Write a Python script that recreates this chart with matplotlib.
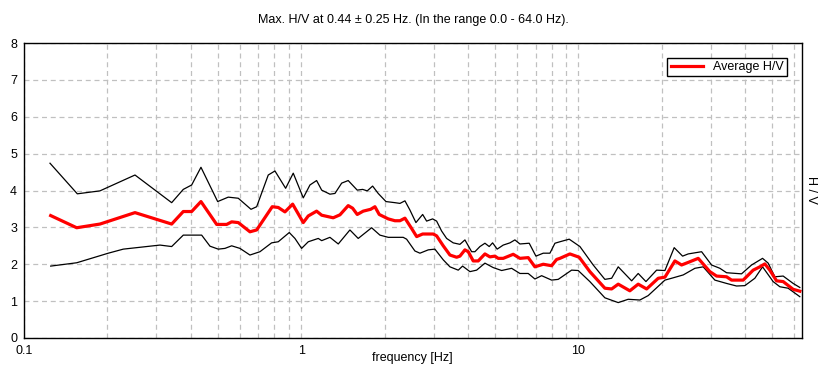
import matplotlib
matplotlib.use("Agg")
import matplotlib.pyplot as plt
from matplotlib.ticker import LogLocator, FixedLocator, NullFormatter

plt.rcParams['font.family'] = ['Liberation Sans', 'DejaVu Sans']

title = "Max. H/V at 0.44 \u00b1 0.25 Hz. (In the range 0.0 - 64.0 Hz)."
xlabel = "frequency [Hz]"
ylabel = "H / V"
legend_label = "Average H/V"
xticks = [0.1, 1, 10]
xtick_labels = ["0.1", "1", "10"]
yticks = [0, 1, 2, 3, 4, 5, 6, 7, 8]

freq_upper = [0.1241, 0.1557, 0.1879, 0.2514, 0.3409, 0.3754, 0.4025, 0.4348, 0.4995, 0.5454,
              0.5927, 0.6588, 0.6906, 0.7603, 0.8038, 0.8784, 0.9357, 1.017, 1.075, 1.136,
              1.185, 1.269, 1.323, 1.399, 1.477, 1.592, 1.665, 1.730, 1.809, 1.895,
              2.021, 2.177, 2.270, 2.366, 2.466, 2.592, 2.741, 2.833, 2.978, 3.078,
              3.209, 3.345, 3.533, 3.735, 3.894, 4.117, 4.231, 4.411, 4.598, 4.764,
              4.900, 5.090, 5.352, 5.658, 5.897, 6.148, 6.642, 7.022, 7.462, 7.888,
              8.223, 8.570, 9.258, 10.12, 11.30, 12.45, 13.17, 13.91, 15.55, 16.42,
              17.51, 19.13, 20.50, 22.14, 23.74, 24.87, 27.80, 30.20, 32.36, 34.20,
              38.74, 42.10, 46.12, 48.32, 51.08, 54.73, 59.47, 62.86]
hv_upper = [4.74, 3.91, 3.99, 4.42, 3.67, 4.03, 4.15, 4.63, 3.70, 3.82,
            3.79, 3.49, 3.56, 4.42, 4.53, 4.06, 4.47, 3.80, 4.15, 4.27,
            4.01, 3.90, 3.92, 4.20, 4.27, 4.01, 4.03, 3.99, 4.12, 3.92,
            3.70, 3.67, 3.65, 3.72, 3.47, 3.13, 3.35, 3.17, 3.23, 3.17,
            2.90, 2.70, 2.58, 2.54, 2.66, 2.34, 2.34, 2.48, 2.57, 2.48,
            2.58, 2.41, 2.52, 2.58, 2.66, 2.55, 2.57, 2.22, 2.30, 2.30,
            2.57, 2.61, 2.68, 2.48, 1.98, 1.59, 1.62, 1.93, 1.55, 1.75,
            1.53, 1.84, 1.83, 2.45, 2.22, 2.28, 2.34, 1.98, 1.89, 1.77,
            1.74, 1.98, 2.16, 2.03, 1.66, 1.68, 1.48, 1.37]

freq_avg = [0.1248, 0.1549, 0.1879, 0.2514, 0.3409, 0.3754, 0.4025, 0.4348, 0.4954, 0.5383,
            0.5611, 0.5927, 0.6531, 0.6906, 0.7859, 0.8262, 0.8734, 0.9311, 1.017, 1.060,
            1.136, 1.185, 1.304, 1.379, 1.477, 1.532, 1.592, 1.673, 1.779, 1.844,
            1.911, 2.060, 2.177, 2.270, 2.366, 2.501, 2.608, 2.741, 2.992, 3.078,
            3.252, 3.438, 3.635, 3.735, 3.894, 4.002, 4.172, 4.349, 4.598, 4.791,
            4.994, 5.134, 5.352, 5.815, 6.148, 6.587, 6.963, 7.462, 7.998, 8.337,
            8.570, 9.311, 10.06, 10.99, 12.45, 13.17, 13.91, 15.32, 16.42, 17.61,
            19.39, 20.50, 22.27, 23.54, 24.87, 27.03, 29.77, 31.48, 34.20, 35.66,
            39.26, 42.66, 45.10, 47.00, 48.99, 51.81, 54.73, 59.47, 62.86]
hv_avg = [3.32, 2.99, 3.09, 3.40, 3.09, 3.43, 3.43, 3.70, 3.08, 3.08,
          3.15, 3.13, 2.88, 2.93, 3.56, 3.54, 3.42, 3.63, 3.13, 3.31,
          3.44, 3.33, 3.26, 3.34, 3.59, 3.52, 3.35, 3.44, 3.49, 3.56,
          3.35, 3.23, 3.18, 3.18, 3.25, 2.97, 2.75, 2.82, 2.82, 2.77,
          2.50, 2.25, 2.19, 2.22, 2.39, 2.34, 2.09, 2.09, 2.28, 2.20,
          2.22, 2.16, 2.16, 2.27, 2.16, 2.18, 1.93, 2.00, 1.96, 2.13,
          2.16, 2.28, 2.19, 1.80, 1.35, 1.33, 1.46, 1.28, 1.46, 1.33,
          1.62, 1.65, 2.09, 1.98, 2.05, 2.16, 1.80, 1.68, 1.66, 1.57,
          1.57, 1.84, 1.93, 2.01, 1.84, 1.55, 1.53, 1.32, 1.27]

freq_lower = [0.1248, 0.1549, 0.2014, 0.2281, 0.3093, 0.3409, 0.3754, 0.4373, 0.4686, 0.5020,
              0.5306, 0.5611, 0.6012, 0.6531, 0.7096, 0.7818, 0.8262, 0.9052, 0.9490, 1.003,
              1.060, 1.152, 1.185, 1.269, 1.360, 1.498, 1.605, 1.794, 1.922, 2.060,
              2.332, 2.399, 2.570, 2.680, 2.871, 3.034, 3.252, 3.438, 3.684, 3.819,
              4.059, 4.291, 4.598, 4.924, 5.282, 5.738, 6.148, 6.587, 6.963, 7.363,
              7.998, 8.450, 9.443, 9.976, 10.99, 12.45, 13.91, 15.11, 16.65, 17.84,
              20.50, 21.67, 23.86, 26.29, 28.17, 31.04, 34.20, 37.16, 39.82, 43.26,
              46.12, 50.36, 53.24, 57.04, 62.86]
hv_lower = [1.95, 2.04, 2.30, 2.41, 2.52, 2.48, 2.79, 2.79, 2.49, 2.41,
            2.43, 2.50, 2.43, 2.25, 2.34, 2.58, 2.61, 2.86, 2.70, 2.43,
            2.61, 2.70, 2.64, 2.73, 2.55, 2.93, 2.70, 2.99, 2.79, 2.73,
            2.73, 2.68, 2.36, 2.30, 2.39, 2.41, 2.12, 1.93, 1.84, 1.95,
            1.80, 1.84, 2.03, 1.91, 1.83, 1.89, 1.75, 1.75, 1.60, 1.69,
            1.57, 1.59, 1.84, 1.83, 1.53, 1.09, 0.96, 1.05, 1.03, 1.15,
            1.57, 1.62, 1.71, 1.89, 1.93, 1.57, 1.48, 1.41, 1.42, 1.62,
            1.93, 1.53, 1.39, 1.35, 1.12]

W, H = 826, 381
fig = plt.figure(figsize=(W / 100, H / 100), dpi=100)
fig.patch.set_facecolor('white')
ax = fig.add_axes([24 / W, 1 - 338 / H, (802 - 24) / W, (338 - 43) / H])

ax.set_xscale('log')
ax.set_xlim(0.1, 64.0)
ax.set_ylim(0, 8)

grid_kw = dict(color='#c0c0c0', linestyle=(0, (4, 3)), linewidth=0.9)
ax.xaxis.set_major_locator(FixedLocator(xticks))
ax.set_xticklabels(xtick_labels)
ax.xaxis.set_minor_locator(LogLocator(base=10, subs=range(2, 10)))
ax.xaxis.set_minor_formatter(NullFormatter())
ax.set_yticks(yticks)
ax.grid(True, which='both', axis='x', **grid_kw)
ax.grid(True, which='major', axis='y', **grid_kw)
ax.set_axisbelow(True)

ax.tick_params(which='both', length=0, labelsize=9, colors='black')
ax.tick_params(axis='y', pad=5)
ax.tick_params(axis='x', pad=5)

for s in ax.spines.values():
    s.set_color('black')
    s.set_linewidth(1.0)

ax.plot(freq_upper, hv_upper, color='black', linewidth=0.9)
ax.plot(freq_lower, hv_lower, color='black', linewidth=0.9)
ax.plot(freq_avg, hv_avg, color='#ff0000', linewidth=2.3, label=legend_label)

leg = ax.legend(loc='upper right', bbox_to_anchor=((787 - 24) / 778, (338 - 58) / 295),
                borderaxespad=0, fontsize=9, frameon=True, fancybox=False,
                handlelength=2.6, handletextpad=0.8, borderpad=0.25)
leg.get_frame().set_edgecolor('black')
leg.get_frame().set_linewidth(1.0)
leg.get_frame().set_alpha(1.0)

fig.text(413 / W, 1 - 20 / H, title, ha='center', va='center', fontsize=9)
fig.text(412 / W, 1 - 358 / H, xlabel, ha='center', va='center', fontsize=9)
fig.text(811 / W, 1 - 190 / H, ylabel, ha='center', va='center', fontsize=9, rotation=270)

fig.savefig('out.png', dpi=100, facecolor='white')
